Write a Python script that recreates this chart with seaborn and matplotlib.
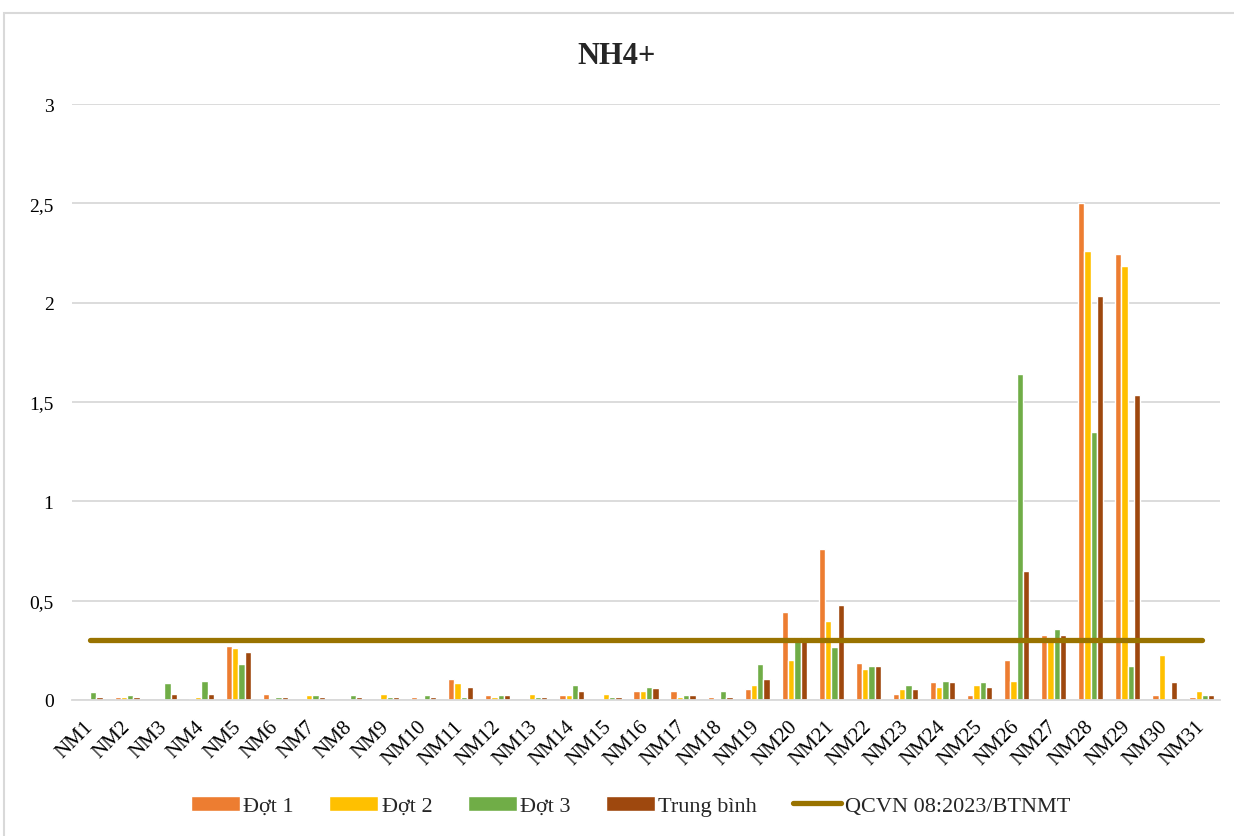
import numpy as np
import pandas as pd
import matplotlib
matplotlib.use("Agg")
import matplotlib.pyplot as plt
import seaborn as sns
from matplotlib.patches import Rectangle
from matplotlib.ticker import FuncFormatter, MultipleLocator

# NH4+ concentrations per sampling point
sites = [f"NM{i}" for i in range(1, 32)]
dot1 = [0, 0.014, 0, 0.005, 0.27, 0.032, 0, 0, 0, 0.014, 0.104, 0.025, 0, 0.025, 0, 0.044,
        0.044, 0.014, 0.054, 0.445, 0.76, 0.186, 0.032, 0.09, 0.025, 0.20, 0.325, 2.50,
        2.245, 0.025, 0.014]
dot2 = [0, 0.014, 0, 0.014, 0.26, 0, 0.025, 0, 0.032, 0, 0.084, 0.014, 0.032, 0.025, 0.032,
        0.044, 0.014, 0, 0.074, 0.20, 0.40, 0.156, 0.054, 0.064, 0.074, 0.097, 0.31, 2.26,
        2.186, 0.228, 0.044]
dot3 = [0.042, 0.025, 0.084, 0.097, 0.18, 0.014, 0.025, 0.025, 0.014, 0.025, 0.014, 0.025,
        0.014, 0.074, 0.014, 0.064, 0.025, 0.044, 0.18, 0.318, 0.266, 0.17, 0.074, 0.097,
        0.09, 1.64, 0.355, 1.35, 0.17, 0, 0.025]
trung_binh = [0.014, 0.014, 0.032, 0.032, 0.24, 0.014, 0.014, 0.014, 0.014, 0.014, 0.064,
              0.025, 0.014, 0.044, 0.014, 0.06, 0.025, 0.014, 0.104, 0.318, 0.476, 0.17,
              0.054, 0.09, 0.064, 0.65, 0.325, 2.035, 1.534, 0.09, 0.025]
qcvn = [0.3] * len(sites)

series_names = ["Đợt 1", "Đợt 2", "Đợt 3", "Trung bình"]
series_colors = ["#ED7D31", "#FFC000", "#70AD47", "#9E480E"]
line_name = "QCVN 08:2023/BTNMT"
line_color = "#997300"

# long-form table for seaborn
df = pd.DataFrame({
    "site": sites * 4,
    "value": dot1 + dot2 + dot3 + trung_binh,
    "series": np.repeat(series_names, len(sites)),
})

sns.set_style("white")
plt.rcParams["font.family"] = ["Liberation Serif", "DejaVu Serif"]

fig = plt.figure(figsize=(12.34, 8.37), dpi=100)
ax = fig.add_axes([0.058, 0.1625, 0.931, 0.712])

sns.barplot(data=df, x="site", y="value", hue="series", hue_order=series_names,
            palette=series_colors, width=0.68, saturation=1, ax=ax)
ax.plot(range(len(sites)), qcvn, color=line_color, lw=3.8,
        solid_capstyle="round", label=line_name)

ax.set_xlim(-0.5, len(sites) - 0.5)
ax.set_ylim(0, 3)
ax.yaxis.set_major_locator(MultipleLocator(0.5))
ax.yaxis.set_major_formatter(FuncFormatter(lambda v, _: f"{v:g}".replace(".", ",")))
ax.yaxis.grid(True, color="#D9D9D9", lw=1.3)
ax.set_axisbelow(True)
for side in ["top", "right", "left"]:
    ax.spines[side].set_visible(False)
ax.spines["bottom"].set_color("#D9D9D9")
ax.spines["bottom"].set_linewidth(1.3)
ax.tick_params(axis="y", length=0, labelsize=14, colors="black", pad=13)
ax.tick_params(axis="x", length=0, labelsize=15, colors="black", pad=17)
for lbl in ax.get_xticklabels():
    lbl.set_rotation(45)
    lbl.set_ha("right")
    lbl.set_va("center")
    lbl.set_rotation_mode("anchor")
ax.set_xlabel("")
ax.set_ylabel("")

fig.text(0.5, 1 - 57 / 837, "NH4+", ha="center", va="center",
         fontsize=22, fontweight="bold")

handles, labels = ax.get_legend_handles_labels()
ax.get_legend().remove()
fig.legend(handles, labels, loc="center", bbox_to_anchor=(0.511, 0.036), ncol=5,
           frameon=False, fontsize=16, handlelength=2.2, handleheight=0.65,
           columnspacing=1.6, handletextpad=0.15)

# outer chart border
fig.patches.append(Rectangle((0.003, -0.02), 1.2, 1 - 14 / 837 + 0.02,
                             transform=fig.transFigure, fill=False,
                             edgecolor="#D9D9D9", lw=1.5))

fig.savefig("out.png", dpi=100, facecolor="white")
